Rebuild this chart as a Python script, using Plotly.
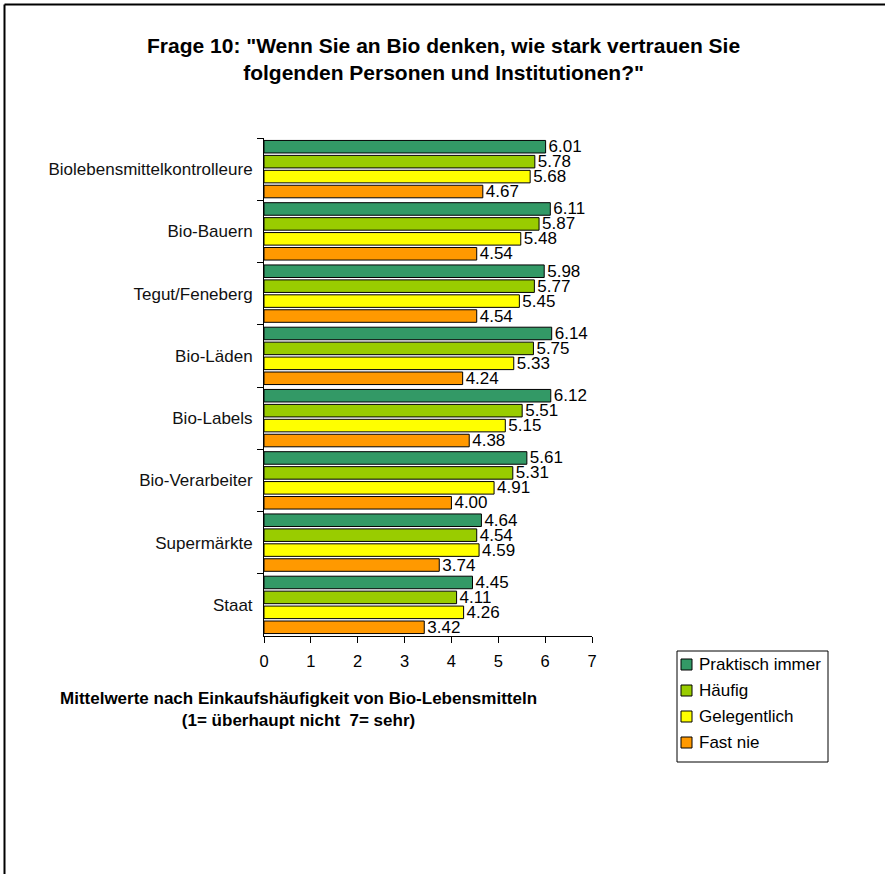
import plotly.graph_objects as go

categories = ["Biolebensmittelkontrolleure", "Bio-Bauern", "Tegut/Feneberg", "Bio-Läden",
              "Bio-Labels", "Bio-Verarbeiter", "Supermärkte", "Staat"]
series_names = ["Praktisch immer", "Häufig", "Gelegentlich", "Fast nie"]
praktisch_immer = [6.01, 6.11, 5.98, 6.14, 6.12, 5.61, 4.64, 4.45]
haeufig = [5.78, 5.87, 5.77, 5.75, 5.51, 5.31, 4.54, 4.11]
gelegentlich = [5.68, 5.48, 5.45, 5.33, 5.15, 4.91, 4.59, 4.26]
fast_nie = [4.67, 4.54, 4.54, 4.24, 4.38, 4.00, 3.74, 3.42]
x_ticks = [0, 1, 2, 3, 4, 5, 6, 7]

colors = ["#339966", "#99CC00", "#FFFF00", "#FF9900"]
FONT = "Liberation Sans, Arial, sans-serif"

fig = go.Figure()
for name, vals, col in zip(series_names, [praktisch_immer, haeufig, gelegentlich, fast_nie], colors):
    fig.add_trace(go.Bar(
        y=categories, x=vals, name=name, orientation="h",
        marker=dict(color=col, line=dict(color="black", width=1)),
        text=[f"{v:.2f}" for v in vals], textposition="outside",
        constraintext="none",
        textfont=dict(size=17, color="black", family=FONT),
        cliponaxis=False, showlegend=False,
    ))

W, H = 885, 874
L, R, T, B = 264, 592, 138, 636
pw, ph = R - L, B - T

def px(x):
    return (x - L) / pw

def py(y):
    return (B - y) / ph

shapes = [
    dict(type="line", xref="paper", yref="paper", x0=px(4.5), x1=px(885), y0=py(4.5), y1=py(4.5),
         line=dict(color="black", width=2)),
    dict(type="line", xref="paper", yref="paper", x0=px(4.5), x1=px(4.5), y0=py(4.5), y1=py(874),
         line=dict(color="black", width=2)),
    # legend box
    dict(type="rect", xref="paper", yref="paper", x0=px(677), x1=px(828), y0=py(651), y1=py(762),
         line=dict(color="black", width=1), fillcolor="white"),
]
annotations = [
    dict(text='<b>Frage 10: "Wenn Sie an Bio denken, wie stark vertrauen Sie<br>folgenden Personen und Institutionen?"</b>',
         xref="paper", yref="paper", x=px(443), y=py(59), xanchor="center", yanchor="middle",
         showarrow=False, font=dict(size=21, family=FONT, color="black")),
    dict(text="<b>Mittelwerte nach Einkaufshäufigkeit von Bio-Lebensmitteln<br>(1= überhaupt nicht  7= sehr)</b>",
         xref="paper", yref="paper", x=px(298), y=py(709), xanchor="center", yanchor="middle",
         showarrow=False, font=dict(size=17, family=FONT, color="black")),
]
legend_y = [664, 690, 716, 742]
for name, col, ly in zip(series_names, colors, legend_y):
    shapes.append(dict(type="rect", xref="paper", yref="paper",
                       x0=px(681), x1=px(692), y0=py(ly - 5), y1=py(ly + 6),
                       line=dict(color="black", width=1), fillcolor=col))
    annotations.append(dict(text=name, xref="paper", yref="paper", x=px(697), y=py(ly),
                            xanchor="left", yanchor="middle", showarrow=False,
                            font=dict(size=17, family=FONT, color="black")))

fig.update_layout(
    width=W, height=H,
    margin=dict(l=L, r=W - R, t=T, b=H - B, pad=0),
    paper_bgcolor="white", plot_bgcolor="white",
    barmode="group", bargap=0.04, bargroupgap=0.16,
    font=dict(family=FONT, size=17, color="black"),
    showlegend=False,
    xaxis=dict(
        range=[0, 7], tickvals=x_ticks, ticks="outside", ticklen=6,
        tickcolor="black", showline=True, linecolor="black", linewidth=1,
        showgrid=False, zeroline=False, tickfont=dict(size=16.5, family=FONT),
        ticklabelstandoff=4,
    ),
    yaxis=dict(
        autorange="reversed", ticks="outside", tickson="boundaries", ticklen=6,
        tickcolor="black", showline=True, linecolor="black", linewidth=1,
        showgrid=False, tickfont=dict(size=17, family=FONT, color="#111111"),
        ticklabelstandoff=7,
    ),
    shapes=shapes,
    annotations=annotations,
)

fig.write_html("out.html")
